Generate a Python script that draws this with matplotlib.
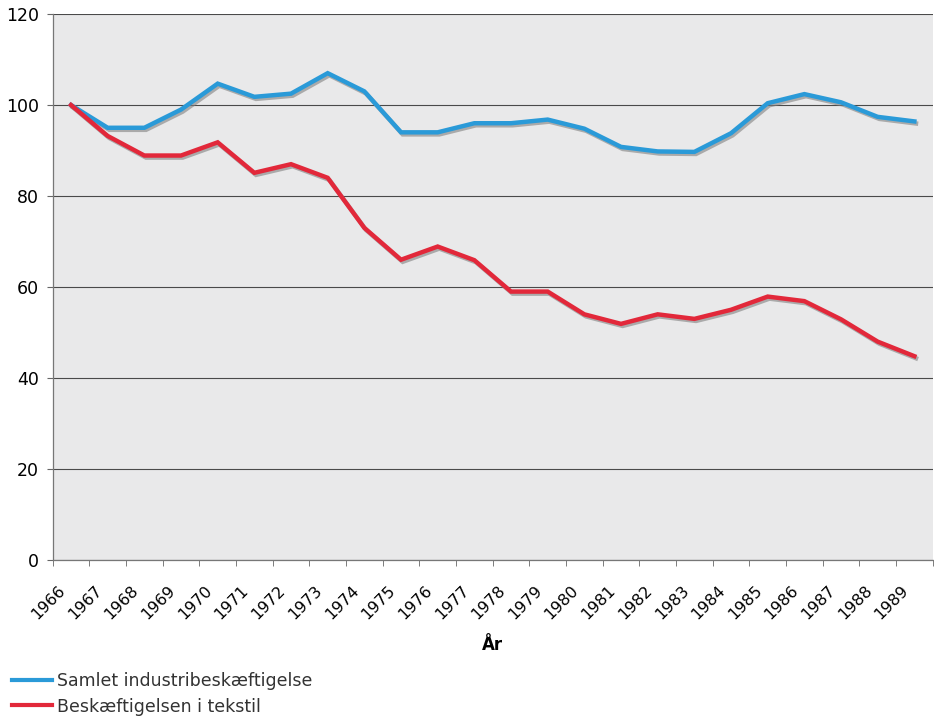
import matplotlib
matplotlib.use("Agg")
import matplotlib.pyplot as plt
import matplotlib.patheffects as pe
import matplotlib.transforms as mtransforms
import numpy as np

years = [str(y) for y in range(1966, 1990)]
samlet = [100, 95, 95, 99, 104.7, 101.8, 102.5, 107, 103, 94, 94, 96, 96, 96.8,
          94.8, 90.8, 89.8, 89.7, 93.8, 100.4, 102.4, 100.6, 97.4, 96.4]
tekstil = [100, 93.2, 88.9, 88.9, 91.8, 85.1, 87, 84, 73, 66, 68.9, 65.9, 59, 59,
           54, 51.9, 54, 53, 55, 57.9, 56.9, 52.9, 48, 44.8]
series_names = ["Samlet industribeskæftigelse", "Beskæftigelsen i tekstil"]
colors = ["#2a9ad8", "#e2283a"]
yticks = [0, 20, 40, 60, 80, 100, 120]

plt.rcParams['font.family'] = ['DejaVu Sans']
fig = plt.figure(figsize=(9.34, 7.19), dpi=100)
ax = fig.add_axes([0.0564, 0.2211, 0.9422, 0.7594])
ax.set_facecolor("#e9e9ea")

x = np.arange(len(years))
shadow = [pe.SimpleLineShadow(offset=(1.2, -1.5), shadow_color="#808080", alpha=0.6), pe.Normal()]
for vals, name, c in zip([samlet, tekstil], series_names, colors):
    ax.plot(x, vals, color=c, lw=3.2, label=name, solid_joinstyle="miter",
            path_effects=shadow, zorder=3)

ax.set_xlim(-0.5, len(years) - 0.5)
ax.set_ylim(0, 120)
ax.set_yticks(yticks)
ax.set_yticklabels([str(v) for v in yticks], fontsize=12.5)
ax.yaxis.grid(True, color="#4a4a4a", lw=0.8)
ax.set_axisbelow(True)

ax.set_xticks(x)
ax.set_xticklabels(years, rotation=45, ha="right", va="center",
                   rotation_mode="anchor", fontsize=11.5)
ax.set_xticks(np.arange(-0.5, len(years), 1), minor=True)
ax.tick_params(axis="x", which="major", length=0, pad=20)
ax.tick_params(axis="x", which="minor", length=4, color="#666666")
ax.tick_params(axis="y", length=4, color="#666666", pad=6)
offset = mtransforms.ScaledTranslation(-8 / 100, 0, fig.dpi_scale_trans)
for lbl in ax.get_xticklabels():
    lbl.set_transform(lbl.get_transform() + offset)

for s in ["top", "right"]:
    ax.spines[s].set_visible(False)
for s in ["left", "bottom"]:
    ax.spines[s].set_color("#777777")
    ax.spines[s].set_linewidth(0.9)

ax.set_xlabel("År", fontsize=12, fontweight="bold", labelpad=10)

leg = fig.legend(loc="lower left", bbox_to_anchor=(0.009, 0.0), frameon=False,
                 fontsize=12.5, handlelength=2.3, handletextpad=0.3,
                 labelspacing=0.42, borderaxespad=0.0, borderpad=0.2)
for t in leg.get_texts():
    t.set_color("#333333")
for h in leg.legend_handles:
    h.set_path_effects([])
    h.set_linewidth(3)

fig.savefig("out.png", dpi=100)
